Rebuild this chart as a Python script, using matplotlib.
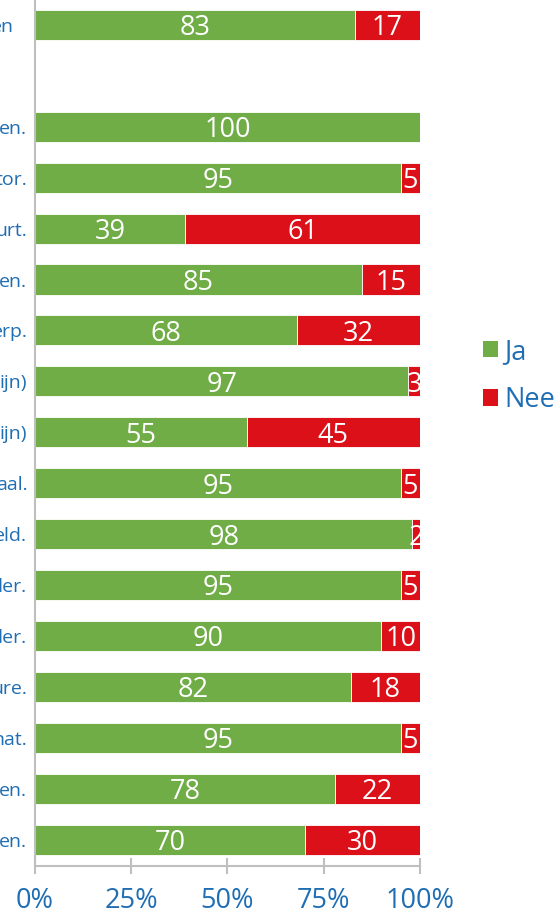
import numpy as np
import matplotlib.pyplot as plt
from matplotlib.patches import Patch

plt.rcParams['font.family'] = ['Open Sans', 'DejaVu Sans']

# category labels (cut off on the left in the original)
labels = ['en', '', 'en.', 'tor.', 'urt.', 'en.', 'erp.', 'ijn)', 'ijn)',
          'aal.', 'eld.', 'der.', 'der.', 'ure.', 'nat.', 'en.', 'en.']
ja = [83, None, 100, 95, 39, 85, 68, 97, 55, 95, 98, 95, 90, 82, 95, 78, 70]
nee = [17, None, 0, 5, 61, 15, 32, 3, 45, 5, 2, 5, 10, 18, 5, 22, 30]

green = '#70AD47'
red = '#DC1019'
blue = '#1F6EB4'
grey = '#BFBFBF'

fig = plt.figure(figsize=(5.59, 9.15), dpi=100)
ax = fig.add_axes([35 / 559, 1 - 866 / 915, 385 / 559, 866 / 915])

y = np.arange(len(labels))
for i in range(len(labels)):
    if ja[i] is None:
        continue
    ax.barh(i, ja[i], height=0.59, color=green, edgecolor='white', linewidth=0.6)
    ax.barh(i, nee[i], left=ja[i], height=0.59, color=red, edgecolor='white', linewidth=0.6)
    if ja[i] > 0:
        ax.text(ja[i] / 2, i, str(ja[i]), ha='center', va='center_baseline',
                color='white', fontsize=19.5)
    if nee[i] > 0:
        ax.text(ja[i] + nee[i] / 2, i, str(nee[i]), ha='center', va='center_baseline',
                color='white', fontsize=19.5)

ax.set_xlim(0, 100)
ax.set_ylim(16.52, -0.49)
ax.set_yticks(y)
ax.set_yticklabels(labels, color=blue, fontsize=14)
ax.tick_params(axis='y', length=0, pad=5.5)
# first label sits further left (wrapped label in the original)
ax.yaxis.get_major_ticks()[0].set_pad(15)
ax.set_xticks([0, 25, 50, 75, 100])
ax.set_xticklabels(['0%', '25%', '50%', '75%', '100%'], color=blue, fontsize=19.5)
ax.tick_params(axis='x', direction='inout', length=12, width=1.5, color=grey, pad=9)

for s in ['top', 'right']:
    ax.spines[s].set_visible(False)
for s in ['left', 'bottom']:
    ax.spines[s].set_color(grey)
    ax.spines[s].set_linewidth(1.5)

handles = [Patch(facecolor=green, label='Ja'), Patch(facecolor=red, label='Nee')]
fig.legend(handles=handles, loc='center left', bbox_to_anchor=(472 / 559, 1 - 376 / 915),
           frameon=False, fontsize=19.5, labelcolor=blue, handlelength=0.55, handleheight=0.55,
           handletextpad=0.25, labelspacing=0.75, borderaxespad=0)

fig.savefig('out.png', dpi=100)
